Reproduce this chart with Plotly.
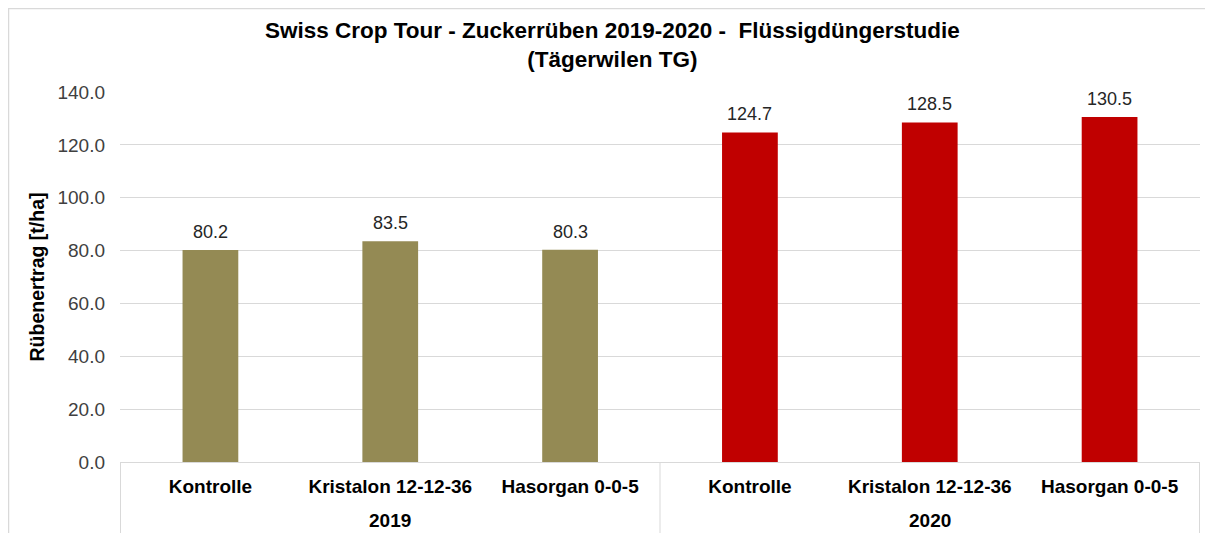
import plotly.graph_objects as go

years = ["2019", "2019", "2019", "2020", "2020", "2020"]
treatments = ["Kontrolle", "Kristalon 12-12-36", "Hasorgan 0-0-5",
              "Kontrolle", "Kristalon 12-12-36", "Hasorgan 0-0-5"]
values = [80.2, 83.5, 80.3, 124.7, 128.5, 130.5]
bar_colors = ["#948A54", "#948A54", "#948A54", "#C00000", "#C00000", "#C00000"]
y_ticks = [0, 20, 40, 60, 80, 100, 120, 140]

FONT = "Arial, Liberation Sans, sans-serif"
W, H = 1205, 525
ML, MR, MT, MB = 112, 13, 84, 71
pw, ph = W - ML - MR, H - MT - MB

keys = [f"{y}|{t}" for y, t in zip(years, treatments)]

fig = go.Figure()
fig.add_trace(go.Bar(
    x=keys,
    y=values,
    marker=dict(color=bar_colors, line=dict(width=0)),
    width=0.31,
    cliponaxis=False,
))

# value labels above bars
for k, v in zip(keys, values):
    fig.add_annotation(
        text=f"{v:.1f}", xref="x", yref="y", x=k, y=v,
        xanchor="center", yanchor="bottom", yshift=6, showarrow=False,
        font=dict(family=FONT, size=18, color="#262626"),
    )

fig.update_layout(
    width=W, height=H,
    margin=dict(l=ML, r=MR, t=MT, b=MB),
    paper_bgcolor="white", plot_bgcolor="white",
    showlegend=False,
    font=dict(family=FONT),
)

# title (two lines)
fig.add_annotation(
    text="<b>Swiss Crop Tour - Zuckerrüben 2019-2020 -  Flüssigdüngerstudie<br>(Tägerwilen TG)</b>",
    xref="paper", yref="paper", x=(604 - ML) / pw, y=1 + (MT - 37) / ph,
    xanchor="center", yanchor="middle", showarrow=False,
    font=dict(family=FONT, size=22.5, color="black"),
)

fig.update_yaxes(
    range=[0, 140], tickvals=y_ticks, ticktext=[f"{t:.1f}" for t in y_ticks],
    showgrid=True, gridcolor="#D9D9D9", gridwidth=1,
    zeroline=False, showline=False,
    tickfont=dict(family=FONT, size=19, color="#404040"),
    ticks="", ticklen=0, ticklabelstandoff=14,
    title=dict(text="<b>Rübenertrag [t/ha]</b>", standoff=7,
               font=dict(family=FONT, size=19.5, color="black")),
)

fig.update_xaxes(
    type="category", categoryorder="array", categoryarray=keys,
    tickvals=keys, ticktext=[f"<b>{t}</b>" for t in treatments],
    showline=True, linecolor="#D9D9D9", linewidth=1,
    tickfont=dict(family=FONT, size=19, color="black"),
    ticks="", showgrid=False, ticklabelstandoff=7,
)

# year group labels and dividers, derived from the category order
groups = []
for i, y in enumerate(years):
    if not groups or groups[-1][0] != y:
        groups.append([y, i, i])
    else:
        groups[-1][2] = i
for y, i0, i1 in groups:
    fig.add_annotation(
        text=f"<b>{y}</b>", xref="x", yref="paper",
        x=(i0 + i1) / 2, y=-(520 - 8 - (H - MB)) / ph,
        xanchor="center", yanchor="middle", showarrow=False,
        font=dict(family=FONT, size=19, color="black"),
    )
bounds = sorted({g[1] - 0.5 for g in groups} | {g[2] + 0.5 for g in groups})
for b in bounds:
    fig.add_shape(type="line", xref="x", yref="paper",
                  x0=b, x1=b, y0=0, y1=-(MB + 5) / ph,
                  line=dict(color="#D9D9D9", width=1))

# outer chart border (top and left edges visible)
fig.add_shape(type="line", xref="paper", yref="paper",
              x0=(-ML + 0.5) / pw, x1=(W - ML) / pw,
              y0=(ph + MT - 0.5) / ph, y1=(ph + MT - 0.5) / ph,
              line=dict(color="#D9D9D9", width=1.5))
fig.add_shape(type="line", xref="paper", yref="paper",
              x0=(-ML + 0.5) / pw, x1=(-ML + 0.5) / pw,
              y0=(ph + MT) / ph, y1=-MB / ph,
              line=dict(color="#D9D9D9", width=1.5))

fig.write_html("out.html")
